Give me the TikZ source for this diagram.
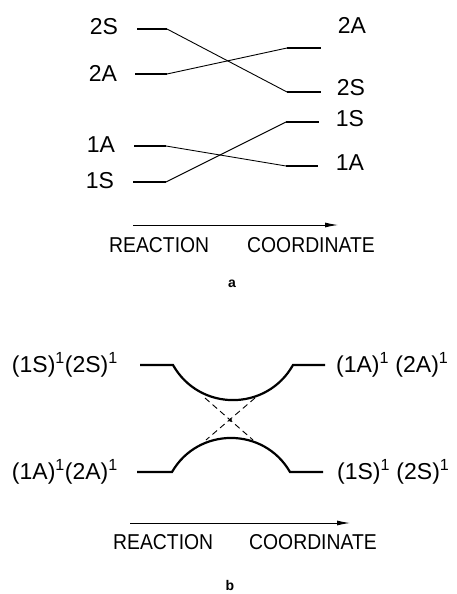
\documentclass[tikz,border=0pt]{standalone}
\usepackage{fontspec}
\setmainfont{Liberation Sans}
\newfontfamily\plotfont[FakeStretch=0.9]{Liberation Sans}
\usetikzlibrary{arrows.meta}
\begin{document}
\begin{tikzpicture}[x=1pt,y=-1pt,
  lvl/.style={line width=2.2pt},
  conn/.style={line width=0.9pt},
  lbl/.style={font=\fontsize{23}{26}\selectfont, inner sep=0pt},
  axlbl/.style={font=\plotfont\fontsize{21.5}{24}\selectfont, inner sep=0pt},
  axis/.style={line width=0.9pt,-{Latex[length=13pt,width=5pt]}},
  tag/.style={font=\bfseries\fontsize{14}{16}\selectfont, inner sep=0pt}]
\useasboundingbox (0,0) rectangle (456,594);
% ---------- part a ----------
\coordinate (L2Sa) at (137,29);  \coordinate (L2Sb) at (167,29);
\coordinate (L2Aa) at (135,74);  \coordinate (L2Ab) at (167,74);
\coordinate (L1Aa) at (134,146); \coordinate (L1Ab) at (166,146);
\coordinate (L1Sa) at (133,182); \coordinate (L1Sb) at (166,182);
\coordinate (R2Aa) at (287,48);  \coordinate (R2Ab) at (321,48);
\coordinate (R2Sa) at (287,92);  \coordinate (R2Sb) at (321,92);
\coordinate (R1Sa) at (286,122); \coordinate (R1Sb) at (319,122);
\coordinate (R1Aa) at (286,166); \coordinate (R1Ab) at (318,166);
\draw[lvl] (L2Sa) -- (L2Sb) (L2Aa) -- (L2Ab) (L1Aa) -- (L1Ab) (L1Sa) -- (L1Sb)
           (R2Aa) -- (R2Ab) (R2Sa) -- (R2Sb) (R1Sa) -- (R1Sb) (R1Aa) -- (R1Ab);
\draw[conn] (L2Sb) -- (R2Sa);
\draw[conn] (L2Ab) -- (R2Aa);
\draw[conn] (L1Ab) -- (R1Aa);
\draw[conn] (L1Sb) -- (R1Sa);
\node[lbl] (tl2S) at (104,27) {2S};
\node[lbl] (tl2A) at (103,73) {2A};
\node[lbl] (tl1A) at (101,145) {1A};
\node[lbl] (tl1S) at (100,181) {1S};
\node[lbl] (tr2A) at (352,25) {2A};
\node[lbl] (tr2S) at (351,88) {2S};
\node[lbl] (tr1S) at (350,119) {1S};
\node[lbl] (tr1A) at (350,163) {1A};
\coordinate (axA0) at (133,225); \coordinate (axA1) at (338,225);
\draw[axis] (axA0) -- (axA1);
\node[axlbl,anchor=west] (rxa) at (109,245) {REACTION};
\node[axlbl,anchor=west] (cda) at (247,245) {COORDINATE};
\node[tag] (taga) at (232,284) {a};
% ---------- part b ----------
\coordinate (bTLa) at (140,365); \coordinate (bTLb) at (173,365);
\coordinate (bTRa) at (293,365); \coordinate (bTRb) at (325,365);
\coordinate (bBLa) at (137,472); \coordinate (bBLb) at (172,472);
\coordinate (bBRa) at (290,472); \coordinate (bBRb) at (323,472);
\draw[lvl] (bTLa) -- (bTLb) .. controls (199.4,411.8) and (266.6,411.8) .. (bTRa) -- (bTRb);
\draw[lvl] (bBLa) -- (bBLb) .. controls (198.2,426.6) and (263.8,426.6) .. (bBRa) -- (bBRb);
\coordinate (d1a) at (205,398); \coordinate (d1b) at (253,440);
\coordinate (d2a) at (255,398); \coordinate (d2b) at (206,440);
\draw[conn,dash pattern=on 6pt off 4pt] (d1a) -- (d1b);
\draw[conn,dash pattern=on 6pt off 4pt] (d2a) -- (d2b);
\fill (230.3,420) circle (1.8pt);
\node[lbl,anchor=east] (btl) at (118,365) {(1S)\textsuperscript{1}(2S)\textsuperscript{1}};
\node[lbl,anchor=east] (bbl) at (118,472) {(1A)\textsuperscript{1}(2A)\textsuperscript{1}};
\node[lbl,anchor=west] (btr) at (336,365) {(1A)\textsuperscript{1} (2A)\textsuperscript{1}};
\node[lbl,anchor=west] (bbr) at (337,472) {(1S)\textsuperscript{1} (2S)\textsuperscript{1}};
\coordinate (axB0) at (130,523); \coordinate (axB1) at (350,523);
\draw[axis] (axB0) -- (axB1);
\node[axlbl,anchor=west] (rxb) at (113,542) {REACTION};
\node[axlbl,anchor=west] (cdb) at (249,542) {COORDINATE};
\node[tag] (tagb) at (230,585) {b};
\end{tikzpicture}
\end{document}
